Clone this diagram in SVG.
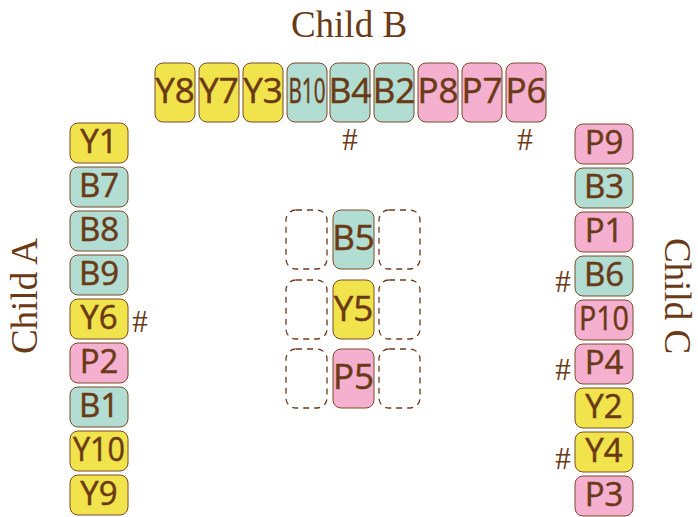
<svg xmlns="http://www.w3.org/2000/svg" width="698" height="517" viewBox="0 0 698 517">
<style>
.c{stroke:#7b4a2a;stroke-width:1}
.y{fill:#f1e34b}.b{fill:#b1ddd3}.p{fill:#f5b0cf}
.d{fill:none;stroke:#6b3a1e;stroke-width:1.3;stroke-dasharray:6 5}
.t{font-family:"Open Sans","Noto Sans",sans-serif;fill:#6a3a16;stroke:#6a3a16;stroke-width:0.5;text-anchor:middle}
.L{font-size:35px}.S{font-size:33px}
.h{font-family:"Liberation Serif",serif;font-size:31px;fill:#6a3a16;text-anchor:middle}
.ti{font-family:"Liberation Serif",serif;font-size:37px;fill:#6a3a16;text-anchor:middle}
</style>
<rect width="698" height="517" fill="#fff"/>
<text class="ti" x="349" y="37">Child B</text>
<text class="ti" transform="translate(37,296) rotate(-90)">Child A</text>
<text class="ti" transform="translate(665,296) rotate(90)">Child C</text>
<g id="top">
<g id="Y8"><rect class="c y" x="155" y="63" width="40" height="59" rx="8"/><text class="t L" x="175" y="103">Y8</text></g>
<g id="Y7"><rect class="c y" x="199" y="63" width="40" height="59" rx="8"/><text class="t L" x="219" y="103">Y7</text></g>
<g id="Y3"><rect class="c y" x="243" y="63" width="40" height="59" rx="8"/><text class="t L" x="263" y="103">Y3</text></g>
<g id="B10"><rect class="c b" x="287" y="63" width="40" height="59" rx="8"/><text class="t L" x="307" y="103" textLength="37" lengthAdjust="spacingAndGlyphs">B10</text></g>
<g id="B4"><rect class="c b" x="330" y="63" width="40" height="59" rx="8"/><text class="t L" x="350" y="103">B4</text></g>
<g id="B2"><rect class="c b" x="374" y="63" width="40" height="59" rx="8"/><text class="t L" x="394" y="103">B2</text></g>
<g id="P8"><rect class="c p" x="418" y="63" width="40" height="59" rx="8"/><text class="t L" x="438" y="103">P8</text></g>
<g id="P7"><rect class="c p" x="462" y="63" width="40" height="59" rx="8"/><text class="t L" x="482" y="103">P7</text></g>
<g id="P6"><rect class="c p" x="506" y="63" width="40" height="59" rx="8"/><text class="t L" x="526" y="103">P6</text></g>
<text class="h" x="350" y="150">#</text>
<text class="h" x="525" y="150">#</text>
</g>
<g id="left">
<g id="Y1"><rect class="c y" x="70" y="123" width="58" height="40" rx="8"/><text class="t S" x="99" y="153">Y1</text></g>
<g id="B7"><rect class="c b" x="70" y="167" width="58" height="40" rx="8"/><text class="t S" x="99" y="197">B7</text></g>
<g id="B8"><rect class="c b" x="70" y="211" width="58" height="40" rx="8"/><text class="t S" x="99" y="241">B8</text></g>
<g id="B9"><rect class="c b" x="70" y="255" width="58" height="40" rx="8"/><text class="t S" x="99" y="285">B9</text></g>
<g id="Y6"><rect class="c y" x="70" y="299" width="58" height="40" rx="8"/><text class="t S" x="99" y="329">Y6</text></g>
<g id="P2"><rect class="c p" x="70" y="343" width="58" height="40" rx="8"/><text class="t S" x="99" y="373">P2</text></g>
<g id="B1"><rect class="c b" x="70" y="387" width="58" height="40" rx="8"/><text class="t S" x="99" y="417">B1</text></g>
<g id="Y10"><rect class="c y" x="70" y="431" width="58" height="40" rx="8"/><text class="t S" x="99" y="461" textLength="52" lengthAdjust="spacingAndGlyphs">Y10</text></g>
<g id="Y9"><rect class="c y" x="70" y="475" width="58" height="40" rx="8"/><text class="t S" x="99" y="505">Y9</text></g>
<text class="h" x="140" y="332">#</text>
</g>
<g id="right">
<g id="P9"><rect class="c p" x="575" y="124" width="58" height="40" rx="8"/><text class="t S" x="604" y="154">P9</text></g>
<g id="B3"><rect class="c b" x="575" y="168" width="58" height="40" rx="8"/><text class="t S" x="604" y="198">B3</text></g>
<g id="P1"><rect class="c p" x="575" y="212" width="58" height="40" rx="8"/><text class="t S" x="604" y="242">P1</text></g>
<g id="B6"><rect class="c b" x="575" y="256" width="58" height="40" rx="8"/><text class="t S" x="604" y="286">B6</text></g>
<g id="P10"><rect class="c p" x="575" y="300" width="58" height="40" rx="8"/><text class="t S" x="604" y="330" textLength="50" lengthAdjust="spacingAndGlyphs">P10</text></g>
<g id="P4"><rect class="c p" x="575" y="344" width="58" height="40" rx="8"/><text class="t S" x="604" y="374">P4</text></g>
<g id="Y2"><rect class="c y" x="575" y="388" width="58" height="40" rx="8"/><text class="t S" x="604" y="418">Y2</text></g>
<g id="Y4"><rect class="c y" x="575" y="432" width="58" height="40" rx="8"/><text class="t S" x="604" y="462">Y4</text></g>
<g id="P3"><rect class="c p" x="575" y="476" width="58" height="40" rx="8"/><text class="t S" x="604" y="506">P3</text></g>
<text class="h" x="563" y="292">#</text>
<text class="h" x="563" y="380">#</text>
<text class="h" x="563" y="469">#</text>
</g>
<g id="center">
<rect class="d" x="286" y="210" width="41" height="59" rx="10"/>
<rect class="d" x="379" y="210" width="41" height="59" rx="10"/>
<rect class="d" x="286" y="280" width="41" height="59" rx="10"/>
<rect class="d" x="379" y="280" width="41" height="59" rx="10"/>
<rect class="d" x="286" y="349" width="41" height="59" rx="10"/>
<rect class="d" x="379" y="349" width="41" height="59" rx="10"/>
<g id="B5"><rect class="c b" x="333" y="210" width="41" height="59" rx="8"/><text class="t L" x="353.5" y="250">B5</text></g>
<g id="Y5"><rect class="c y" x="333" y="280" width="41" height="59" rx="8"/><text class="t L" x="353.5" y="321">Y5</text></g>
<g id="P5"><rect class="c p" x="333" y="349" width="41" height="59" rx="8"/><text class="t L" x="353.5" y="389">P5</text></g>
</g>
</svg>
